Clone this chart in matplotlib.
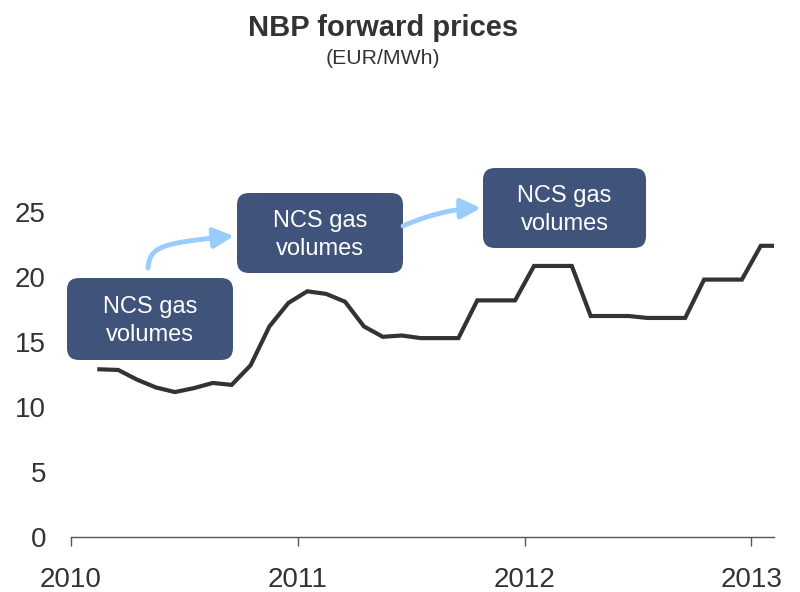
import numpy as np
import pandas as pd
import matplotlib
matplotlib.use("Agg")
import matplotlib.pyplot as plt
from matplotlib.patches import FancyBboxPatch, FancyArrowPatch
from matplotlib.path import Path
from matplotlib.transforms import Affine2D

plt.rcParams['font.family'] = ['Liberation Sans', 'DejaVu Sans']

# monthly forward prices, Feb 2010 - Feb 2013 (EUR/MWh)
months = pd.period_range('2010-02', '2013-02', freq='M')
prices = [12.9, 12.85, 12.1, 11.5, 11.15, 11.45, 11.85, 11.7, 13.2, 16.2, 18.0,
          18.9, 18.7, 18.1, 16.2, 15.4, 15.5, 15.3, 15.3, 15.3, 18.2, 18.2, 18.2,
          20.85, 20.85, 20.85, 17.0, 17.0, 17.0, 16.85, 16.85, 16.85, 19.8, 19.8, 19.8,
          22.4, 22.4]
years = [2010, 2011, 2012, 2013]
yticks = [0, 5, 10, 15, 20, 25]
box_text = "NCS gas\nvolumes"

x = np.array([p.year + (p.month - 0.5) / 12 for p in months])

fig = plt.figure(figsize=(8, 5.92), dpi=100)
ax = fig.add_axes([71 / 800, 55 / 592, 703 / 800, 390 / 592])
ax.patch.set_alpha(0)

ax.plot(x, prices, color='#333333', lw=3.0, solid_joinstyle='miter')

ax.set_xlim(2010, 2013.1)
ax.set_ylim(0, 30)
ax.set_xticks(years)
ax.set_xticklabels([str(y) for y in years])
ax.set_yticks(yticks)
for s in ['top', 'right', 'left']:
    ax.spines[s].set_visible(False)
ax.spines['bottom'].set_color('#555555')
ax.spines['bottom'].set_linewidth(1.0)
ax.tick_params(axis='x', direction='out', length=6.5, width=1.0, color='#555555',
               labelsize=20, labelcolor='#333333', pad=15)
ax.tick_params(axis='y', length=0, labelsize=20, labelcolor='#333333', pad=18)

fig.text(383 / 800, 1 - 28 / 592, "NBP forward prices", ha='center', va='center',
         fontsize=21, fontweight='bold', color='#333333')
fig.text(383 / 800, 1 - 59 / 592, "(EUR/MWh)", ha='center', va='center',
         fontsize=15.3, color='#333333')

# pixel coordinates of the 800x592 image (y downwards)
px = Affine2D().scale(1 / 800, -1 / 592).translate(0, 1) + fig.transFigure

boxes = [(67, 278, 166, 82), (237, 193, 166, 80), (483, 168, 163, 80)]
for bx, by, bw, bh in boxes:
    r = 12
    p = FancyBboxPatch((bx + r, by + r), bw - 2 * r, bh - 2 * r,
                       boxstyle="round,pad=%d,rounding_size=%d" % (r, r),
                       transform=px, facecolor='#3f537b', edgecolor='none')
    fig.patches.append(p)
    fig.text((bx + bw / 2) / 800, 1 - (by + bh / 2 + 2) / 592, box_text, ha='center',
             va='center', fontsize=17, color='white', linespacing=1.3)

arrows = [
    [(148, 268), (150, 247), (160, 243), (234, 236)],
    [(403, 226), (428, 215), (452, 209), (481, 208)],
]
for pts in arrows:
    path = Path(pts, [Path.MOVETO, Path.CURVE4, Path.CURVE4, Path.CURVE4])
    a = FancyArrowPatch(path=path, transform=px, arrowstyle='-|>,head_length=1.2,head_width=0.6',
                        mutation_scale=10, color='#99ccff', lw=3.5)
    fig.patches.append(a)

fig.savefig('out.png', dpi=100)
